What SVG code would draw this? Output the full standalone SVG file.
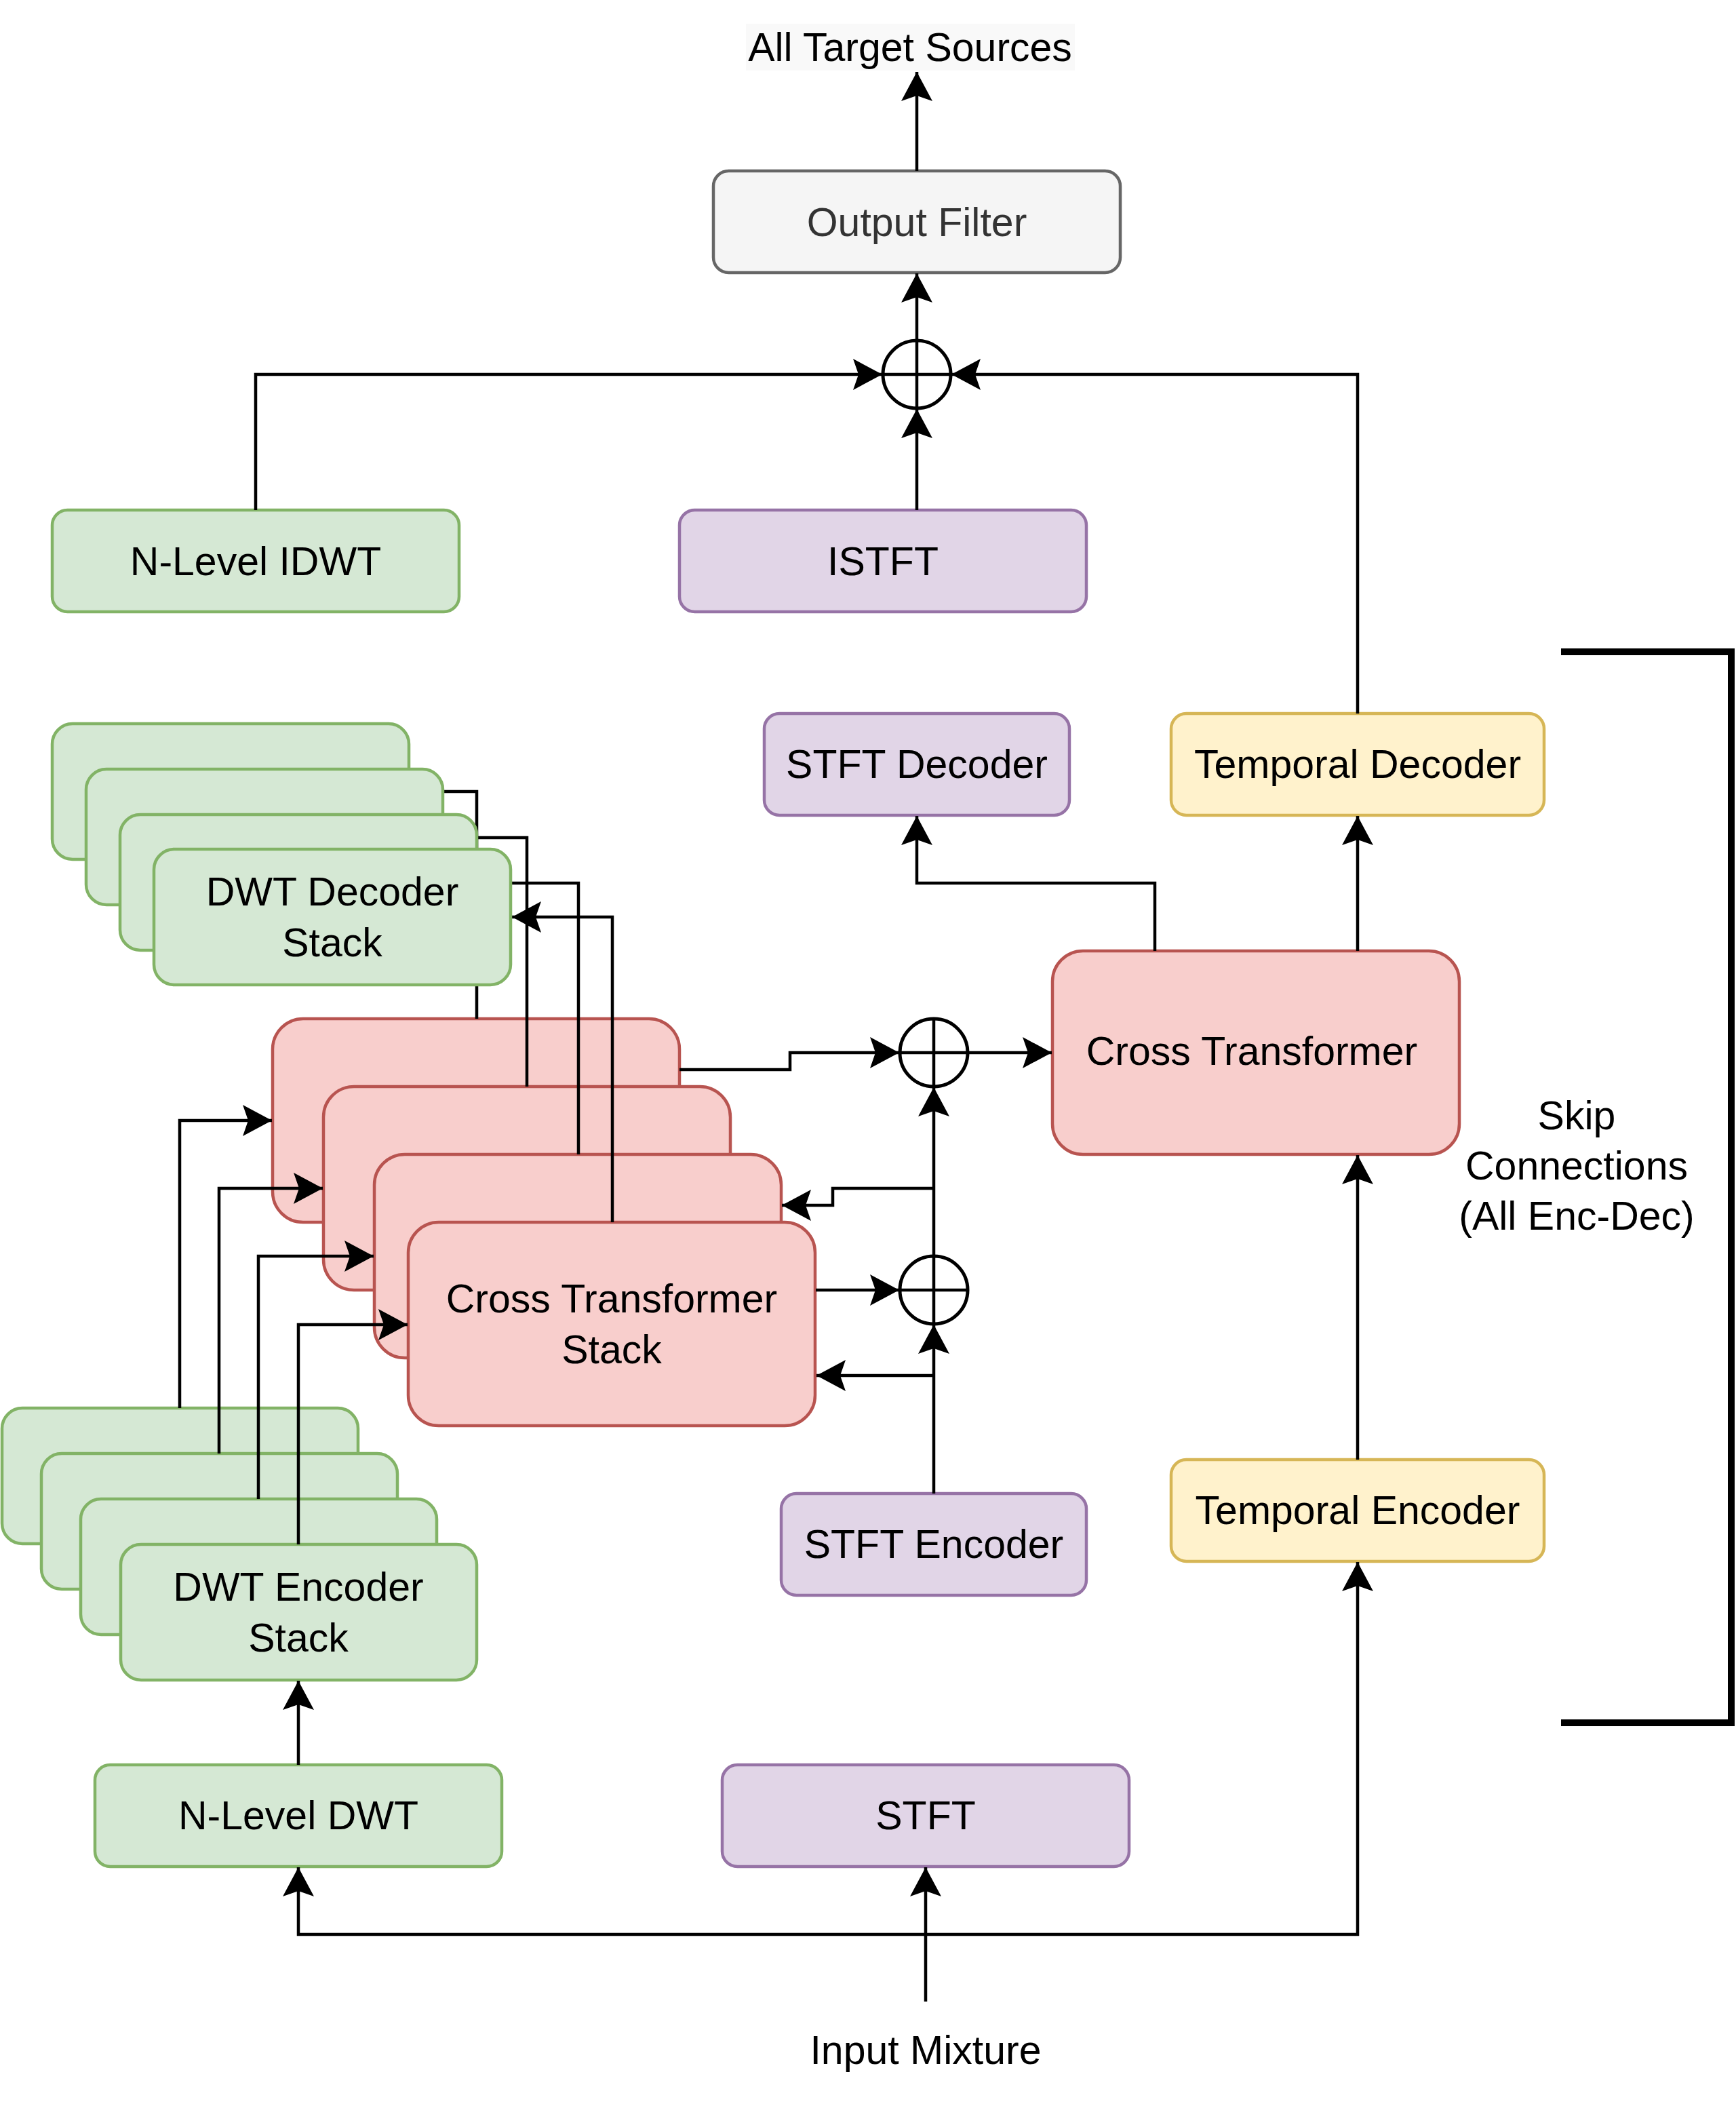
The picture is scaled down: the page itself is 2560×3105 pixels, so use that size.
<svg xmlns="http://www.w3.org/2000/svg" width="2560" height="3105" viewBox="0 0 2560 3105">
<style>
text{font-family:"Liberation Sans",Arial,Helvetica,sans-serif;font-size:59px;fill:#000;text-anchor:middle}
.g{fill:#d5e8d4;stroke:#82b366;stroke-width:4.5}
.p{fill:#e1d5e7;stroke:#9673a6;stroke-width:4.5}
.r{fill:#f8cecc;stroke:#b85450;stroke-width:4.5}
.y{fill:#fff2cc;stroke:#d6b656;stroke-width:4.5}
.k{fill:#f5f5f5;stroke:#666666;stroke-width:4.5}
.e{fill:none;stroke:#000;stroke-width:4.5}
.a{fill:none;stroke:#000;stroke-width:4.5;marker-end:url(#arr)}
.sum{fill:#fff;stroke:#000;stroke-width:5}
</style>
<defs>
<marker id="arr" markerUnits="userSpaceOnUse" markerWidth="44" markerHeight="46" viewBox="0 0 44 46" refX="43" refY="23" orient="auto">
<path d="M43,23 L0,0 L8,23 L0,46 Z" fill="#000"/>
</marker>
</defs>
<rect width="2560" height="3105" fill="#fff"/>

<g id="dwt-encoder-stack">
<rect class="g" x="3" y="2076" width="525" height="200" rx="30"/>
<rect class="g" x="61" y="2143" width="525" height="200" rx="30"/>
<rect class="g" x="119" y="2210" width="525" height="200" rx="30"/>
<rect class="g" x="178" y="2277" width="525" height="200" rx="30"/>
<text x="440" y="2360">DWT Encoder</text>
<text x="440" y="2435">Stack</text>
</g>

<g id="cross-transformer-stack">
<rect class="r" x="402" y="1502" width="600" height="300" rx="45"/>
<rect class="r" x="477" y="1602" width="600" height="300" rx="45"/>
<rect class="r" x="552" y="1702" width="600" height="300" rx="45"/>
<rect class="r" x="602" y="1802" width="600" height="300" rx="45"/>
<text x="902" y="1935">Cross Transformer</text>
<text x="902" y="2010">Stack</text>
</g>

<g id="output-filter">
<rect class="k" x="1052" y="252" width="600" height="150" rx="22.5"/>
<text x="1352" y="348" style="fill:#333333">Output Filter</text>
</g>
<g id="all-target-sources">
<rect x="1100" y="35" width="485" height="69" fill="#f9f9f9"/>
<text x="1342" y="90">All Target Sources</text>
</g>
<g id="n-level-idwt">
<rect class="g" x="77" y="752" width="600" height="150" rx="22.5"/>
<text x="377" y="848">N-Level IDWT</text>
</g>
<g id="istft">
<rect class="p" x="1002" y="752" width="600" height="150" rx="22.5"/>
<text x="1302" y="848">ISTFT</text>
</g>
<g id="stft-decoder">
<rect class="p" x="1127" y="1052" width="450" height="150" rx="22.5"/>
<text x="1352" y="1147">STFT Decoder</text>
</g>
<g id="temporal-decoder">
<rect class="y" x="1727" y="1052" width="550" height="150" rx="22.5"/>
<text x="2002" y="1147">Temporal Decoder</text>
</g>
<g id="cross-transformer">
<rect class="r" x="1552" y="1402" width="600" height="300" rx="45"/>
<text x="1846" y="1570">Cross Transformer</text>
</g>
<g id="stft-encoder">
<rect class="p" x="1152" y="2202" width="450" height="150" rx="22.5"/>
<text x="1377" y="2297">STFT Encoder</text>
</g>
<g id="temporal-encoder">
<rect class="y" x="1727" y="2152" width="550" height="150" rx="22.5"/>
<text x="2002" y="2247">Temporal Encoder</text>
</g>
<g id="stft">
<rect class="p" x="1065" y="2602" width="600" height="150" rx="22.5"/>
<text x="1365" y="2697">STFT</text>
</g>
<g id="n-level-dwt">
<rect class="g" x="140" y="2602" width="600" height="150" rx="22.5"/>
<text x="440" y="2697">N-Level DWT</text>
</g>
<g id="input-mixture">
<text x="1365" y="3043">Input Mixture</text>
</g>
<g id="skip-connections">
<path d="M2302,961 H2553 V2540 H2302" fill="none" stroke="#000" stroke-width="10"/>
<text x="2325" y="1665">Skip</text>
<text x="2325" y="1739">Connections</text>
<text x="2325" y="1813">(All Enc-Dec)</text>
</g>

<g id="sum-top">
<circle class="sum" cx="1352" cy="552" r="50"/>
<path class="e" d="M1302,552 H1402 M1352,502 V602"/>
</g>
<g id="sum-mid">
<circle class="sum" cx="1377" cy="1552" r="50"/>
<path class="e" d="M1327,1552 H1427 M1377,1502 V1602"/>
</g>
<g id="sum-low">
<circle class="sum" cx="1377" cy="1902" r="50"/>
<path class="e" d="M1327,1902 H1427 M1377,1852 V1952"/>
</g>

<g id="connectors">
<path class="a" d="M1352,252 V106"/>
<path class="a" d="M1352,502 V403"/>
<path class="a" d="M1352,752 V603"/>
<path class="a" d="M377,752 V552 H1301"/>
<path class="a" d="M2002,1052 V552 H1403"/>
<path class="a" d="M1703,1402 V1302 H1352 V1203"/>
<path class="a" d="M2002,1402 V1203"/>
<path class="a" d="M1427,1552 H1551"/>
<path class="a" d="M1002,1577 H1165 V1552 H1326"/>
<path class="a" d="M1203,1902 H1326"/>
<path class="a" d="M1377,2202 V1953"/>
<path class="a" d="M1377,1852 V1603"/>
<path class="a" d="M1377,1752 H1228 V1777 H1153"/>
<path class="a" d="M1377,2028 H1204"/>
<path class="a" d="M2002,2152 V1703"/>
<path class="a" d="M1365,2951 V2753"/>
<path class="a" d="M1365,2852 H440 V2753"/>
<path class="a" d="M1365,2852 H2002 V2303"/>
<path class="a" d="M440,2602 V2478"/>
<path class="a" d="M265,2076 V1652 H401"/>
<path class="a" d="M323,2143 V1752 H476"/>
<path class="a" d="M381,2210 V1852 H551"/>
<path class="a" d="M440,2277 V1953 H601"/>
<path class="a" d="M703,1502 V1167 H604"/>
<path class="a" d="M777,1602 V1235 H654"/>
<path class="a" d="M853,1702 V1302 H704"/>
<path class="a" d="M903,1802 V1352 H755"/>
</g>

<g id="dwt-decoder-stack">
<rect class="g" x="77" y="1067" width="526" height="200" rx="30"/>
<rect class="g" x="127" y="1134" width="526" height="200" rx="30"/>
<rect class="g" x="177" y="1201" width="526" height="200" rx="30"/>
<rect class="g" x="227" y="1252" width="526" height="200" rx="30"/>
<text x="490" y="1335">DWT Decoder</text>
<text x="490" y="1410">Stack</text>
</g>
</svg>
